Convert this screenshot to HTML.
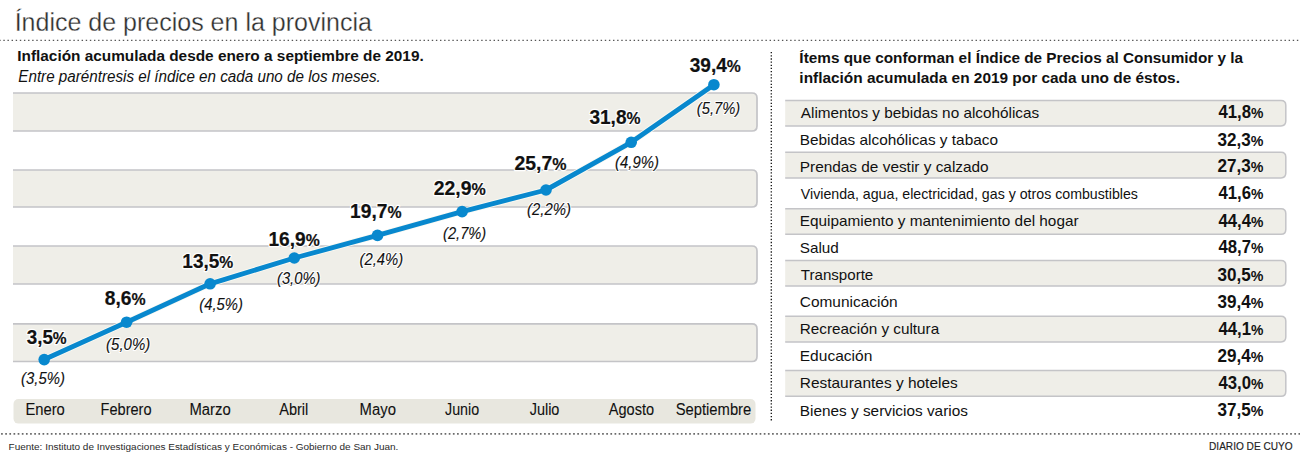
<!DOCTYPE html>
<html><head><meta charset="utf-8"><style>
html,body{margin:0;padding:0;background:#fff;width:1300px;height:459px;overflow:hidden}
svg{display:block}
text{font-family:"Liberation Sans", sans-serif}
</style></head><body>
<svg width="1300" height="459" viewBox="0 0 1300 459">
<line x1="-0.77" y1="40.4" x2="1301" y2="40.4" stroke="#555" stroke-width="1.4" stroke-dasharray="1.4 2.7195"/>
<path d="M13 93 H752 Q757 93 757 98 V126 Q757 131 752 131 H13 Z" fill="#efeee8"/>
<path d="M13 93 H752 Q757 93 757 98 V126 Q757 131 752 131 H13" fill="none" stroke="#c4c4c7" stroke-width="1.7"/>
<path d="M13 170 H752 Q757 170 757 175 V202 Q757 207 752 207 H13 Z" fill="#efeee8"/>
<path d="M13 170 H752 Q757 170 757 175 V202 Q757 207 752 207 H13" fill="none" stroke="#c4c4c7" stroke-width="1.7"/>
<path d="M13 246 H752 Q757 246 757 251 V279 Q757 284 752 284 H13 Z" fill="#efeee8"/>
<path d="M13 246 H752 Q757 246 757 251 V279 Q757 284 752 284 H13" fill="none" stroke="#c4c4c7" stroke-width="1.7"/>
<path d="M13 323.9 H752 Q757 323.9 757 328.9 V356.5 Q757 361.5 752 361.5 H13 Z" fill="#efeee8"/>
<path d="M13 323.9 H752 Q757 323.9 757 328.9 V356.5 Q757 361.5 752 361.5 H13" fill="none" stroke="#c4c4c7" stroke-width="1.7"/>
<rect x="13.5" y="399" width="742" height="24.6" rx="5" fill="#e8e7df"/>
<path d="M44.2 359.6 L126.6 322.2 L210.1 283.8 L294.3 258 L377.5 235.4 L462.1 211.6 L546 190 L631.2 142.3 L713.9 84.7" fill="none" stroke="#fbfaf2" stroke-width="6.6" stroke-linejoin="round"/>
<path d="M44.2 359.6 L126.6 322.2 L210.1 283.8 L294.3 258 L377.5 235.4 L462.1 211.6 L546 190 L631.2 142.3 L713.9 84.7" fill="none" stroke="#0888ce" stroke-width="4.9" stroke-linejoin="round"/>
<circle cx="44.2" cy="359.6" r="5.8" fill="#0888ce"/>
<circle cx="126.6" cy="322.2" r="5.8" fill="#0888ce"/>
<circle cx="210.1" cy="283.8" r="5.8" fill="#0888ce"/>
<circle cx="294.3" cy="258" r="5.8" fill="#0888ce"/>
<circle cx="377.5" cy="235.4" r="5.8" fill="#0888ce"/>
<circle cx="462.1" cy="211.6" r="5.8" fill="#0888ce"/>
<circle cx="546" cy="190" r="5.8" fill="#0888ce"/>
<circle cx="631.2" cy="142.3" r="5.8" fill="#0888ce"/>
<circle cx="713.9" cy="84.7" r="5.8" fill="#0888ce"/>
<line x1="771.3" y1="52" x2="771.3" y2="420.5" stroke="#111" stroke-width="1.3" stroke-dasharray="1.3 1.8645"/>
<path d="M785.2 100.5 H1281 Q1285.8 100.5 1285.8 105.3 V121.10000000000001 Q1285.8 125.9 1281 125.9 H785.2 Z" fill="#efeee8"/>
<path d="M785.2 100.5 H1281 Q1285.8 100.5 1285.8 105.3 V121.10000000000001 Q1285.8 125.9 1281 125.9 H785.2" fill="none" stroke="#c4c4c7" stroke-width="1.5"/>
<path d="M785.2 152.2 H1281 Q1285.8 152.2 1285.8 157.0 V173.1 Q1285.8 177.9 1281 177.9 H785.2 Z" fill="#efeee8"/>
<path d="M785.2 152.2 H1281 Q1285.8 152.2 1285.8 157.0 V173.1 Q1285.8 177.9 1281 177.9 H785.2" fill="none" stroke="#c4c4c7" stroke-width="1.5"/>
<path d="M785.2 208.7 H1281 Q1285.8 208.7 1285.8 213.5 V229.39999999999998 Q1285.8 234.2 1281 234.2 H785.2 Z" fill="#efeee8"/>
<path d="M785.2 208.7 H1281 Q1285.8 208.7 1285.8 213.5 V229.39999999999998 Q1285.8 234.2 1281 234.2 H785.2" fill="none" stroke="#c4c4c7" stroke-width="1.5"/>
<path d="M785.2 260.5 H1281 Q1285.8 260.5 1285.8 265.3 V281.09999999999997 Q1285.8 285.9 1281 285.9 H785.2 Z" fill="#efeee8"/>
<path d="M785.2 260.5 H1281 Q1285.8 260.5 1285.8 265.3 V281.09999999999997 Q1285.8 285.9 1281 285.9 H785.2" fill="none" stroke="#c4c4c7" stroke-width="1.5"/>
<path d="M785.2 316.3 H1281 Q1285.8 316.3 1285.8 321.1 V337.09999999999997 Q1285.8 341.9 1281 341.9 H785.2 Z" fill="#efeee8"/>
<path d="M785.2 316.3 H1281 Q1285.8 316.3 1285.8 321.1 V337.09999999999997 Q1285.8 341.9 1281 341.9 H785.2" fill="none" stroke="#c4c4c7" stroke-width="1.5"/>
<path d="M785.2 370.6 H1281 Q1285.8 370.6 1285.8 375.40000000000003 V391.4 Q1285.8 396.2 1281 396.2 H785.2 Z" fill="#efeee8"/>
<path d="M785.2 370.6 H1281 Q1285.8 370.6 1285.8 375.40000000000003 V391.4 Q1285.8 396.2 1281 396.2 H785.2" fill="none" stroke="#c4c4c7" stroke-width="1.5"/>
<line x1="-3.065" y1="433.9" x2="1301" y2="433.9" stroke="#6a6a6a" stroke-width="1.7" stroke-dasharray="1.7 2.445"/>
<text x="14.66" y="30.8" font-size="25.8" font-weight="normal" font-style="normal" fill="#2e2e2e" stroke="#fff" stroke-width="0.3" textLength="357.2" lengthAdjust="spacingAndGlyphs">Índice de precios en la provincia</text>
<text x="17.28" y="60.8" font-size="15" font-weight="bold" font-style="normal" fill="#111" textLength="406.47" lengthAdjust="spacingAndGlyphs">Inflación acumulada desde enero a septiembre de 2019.</text>
<text x="18.3" y="81.9" font-size="16" font-weight="normal" font-style="italic" fill="#111" textLength="362.53" lengthAdjust="spacingAndGlyphs">Entre paréntresis el índice en cada uno de los meses.</text>
<text x="26.7" y="343.5" font-size="20" font-weight="bold" font-style="normal" fill="#fff" stroke="#fff" stroke-width="2.5" stroke-linejoin="round" textLength="39.96" lengthAdjust="spacingAndGlyphs">3,5<tspan font-size="16.5">%</tspan></text>
<text x="26.7" y="343.5" font-size="20" font-weight="bold" font-style="normal" fill="#111" stroke="#111" stroke-width="0.2" textLength="39.96" lengthAdjust="spacingAndGlyphs">3,5<tspan font-size="16.5">%</tspan></text>
<text x="104.84" y="304.7" font-size="20" font-weight="bold" font-style="normal" fill="#fff" stroke="#fff" stroke-width="2.5" stroke-linejoin="round" textLength="40.83" lengthAdjust="spacingAndGlyphs">8,6<tspan font-size="16.5">%</tspan></text>
<text x="104.84" y="304.7" font-size="20" font-weight="bold" font-style="normal" fill="#111" stroke="#111" stroke-width="0.2" textLength="40.83" lengthAdjust="spacingAndGlyphs">8,6<tspan font-size="16.5">%</tspan></text>
<text x="182.35" y="268.2" font-size="20" font-weight="bold" font-style="normal" fill="#fff" stroke="#fff" stroke-width="2.5" stroke-linejoin="round" textLength="50.93" lengthAdjust="spacingAndGlyphs">13,5<tspan font-size="16.5">%</tspan></text>
<text x="182.35" y="268.2" font-size="20" font-weight="bold" font-style="normal" fill="#111" stroke="#111" stroke-width="0.2" textLength="50.93" lengthAdjust="spacingAndGlyphs">13,5<tspan font-size="16.5">%</tspan></text>
<text x="268.44" y="245.6" font-size="20" font-weight="bold" font-style="normal" fill="#fff" stroke="#fff" stroke-width="2.5" stroke-linejoin="round" textLength="51.24" lengthAdjust="spacingAndGlyphs">16,9<tspan font-size="16.5">%</tspan></text>
<text x="268.44" y="245.6" font-size="20" font-weight="bold" font-style="normal" fill="#111" stroke="#111" stroke-width="0.2" textLength="51.24" lengthAdjust="spacingAndGlyphs">16,9<tspan font-size="16.5">%</tspan></text>
<text x="350.04" y="218.4" font-size="20" font-weight="bold" font-style="normal" fill="#fff" stroke="#fff" stroke-width="2.5" stroke-linejoin="round" textLength="51.44" lengthAdjust="spacingAndGlyphs">19,7<tspan font-size="16.5">%</tspan></text>
<text x="350.04" y="218.4" font-size="20" font-weight="bold" font-style="normal" fill="#111" stroke="#111" stroke-width="0.2" textLength="51.44" lengthAdjust="spacingAndGlyphs">19,7<tspan font-size="16.5">%</tspan></text>
<text x="433.73" y="195" font-size="20" font-weight="bold" font-style="normal" fill="#fff" stroke="#fff" stroke-width="2.5" stroke-linejoin="round" textLength="52.06" lengthAdjust="spacingAndGlyphs">22,9<tspan font-size="16.5">%</tspan></text>
<text x="433.73" y="195" font-size="20" font-weight="bold" font-style="normal" fill="#111" stroke="#111" stroke-width="0.2" textLength="52.06" lengthAdjust="spacingAndGlyphs">22,9<tspan font-size="16.5">%</tspan></text>
<text x="514.43" y="169.7" font-size="20" font-weight="bold" font-style="normal" fill="#fff" stroke="#fff" stroke-width="2.5" stroke-linejoin="round" textLength="52.06" lengthAdjust="spacingAndGlyphs">25,7<tspan font-size="16.5">%</tspan></text>
<text x="514.43" y="169.7" font-size="20" font-weight="bold" font-style="normal" fill="#111" stroke="#111" stroke-width="0.2" textLength="52.06" lengthAdjust="spacingAndGlyphs">25,7<tspan font-size="16.5">%</tspan></text>
<text x="589.4" y="124.3" font-size="20" font-weight="bold" font-style="normal" fill="#fff" stroke="#fff" stroke-width="2.5" stroke-linejoin="round" textLength="51.08" lengthAdjust="spacingAndGlyphs">31,8<tspan font-size="16.5">%</tspan></text>
<text x="589.4" y="124.3" font-size="20" font-weight="bold" font-style="normal" fill="#111" stroke="#111" stroke-width="0.2" textLength="51.08" lengthAdjust="spacingAndGlyphs">31,8<tspan font-size="16.5">%</tspan></text>
<text x="689.7" y="71.9" font-size="20" font-weight="bold" font-style="normal" fill="#fff" stroke="#fff" stroke-width="2.5" stroke-linejoin="round" textLength="51.08" lengthAdjust="spacingAndGlyphs">39,4<tspan font-size="16.5">%</tspan></text>
<text x="689.7" y="71.9" font-size="20" font-weight="bold" font-style="normal" fill="#111" stroke="#111" stroke-width="0.2" textLength="51.08" lengthAdjust="spacingAndGlyphs">39,4<tspan font-size="16.5">%</tspan></text>
<text x="21.02" y="384" font-size="17" font-weight="normal" font-style="italic" fill="#fff" stroke="#fff" stroke-width="2.2" stroke-linejoin="round" textLength="43.92" lengthAdjust="spacingAndGlyphs">(3,5%)</text>
<text x="21.02" y="384" font-size="17" font-weight="normal" font-style="italic" fill="#111" stroke="#111" stroke-width="0.12" textLength="43.92" lengthAdjust="spacingAndGlyphs">(3,5%)</text>
<text x="106.12" y="349.6" font-size="17" font-weight="normal" font-style="italic" fill="#fff" stroke="#fff" stroke-width="2.2" stroke-linejoin="round" textLength="44.13" lengthAdjust="spacingAndGlyphs">(5,0%)</text>
<text x="106.12" y="349.6" font-size="17" font-weight="normal" font-style="italic" fill="#111" stroke="#111" stroke-width="0.12" textLength="44.13" lengthAdjust="spacingAndGlyphs">(5,0%)</text>
<text x="199.33" y="309.5" font-size="17" font-weight="normal" font-style="italic" fill="#fff" stroke="#fff" stroke-width="2.2" stroke-linejoin="round" textLength="43.61" lengthAdjust="spacingAndGlyphs">(4,5%)</text>
<text x="199.33" y="309.5" font-size="17" font-weight="normal" font-style="italic" fill="#111" stroke="#111" stroke-width="0.12" textLength="43.61" lengthAdjust="spacingAndGlyphs">(4,5%)</text>
<text x="277.03" y="283.8" font-size="17" font-weight="normal" font-style="italic" fill="#fff" stroke="#fff" stroke-width="2.2" stroke-linejoin="round" textLength="43.4" lengthAdjust="spacingAndGlyphs">(3,0%)</text>
<text x="277.03" y="283.8" font-size="17" font-weight="normal" font-style="italic" fill="#111" stroke="#111" stroke-width="0.12" textLength="43.4" lengthAdjust="spacingAndGlyphs">(3,0%)</text>
<text x="359.53" y="264.5" font-size="17" font-weight="normal" font-style="italic" fill="#fff" stroke="#fff" stroke-width="2.2" stroke-linejoin="round" textLength="43.71" lengthAdjust="spacingAndGlyphs">(2,4%)</text>
<text x="359.53" y="264.5" font-size="17" font-weight="normal" font-style="italic" fill="#111" stroke="#111" stroke-width="0.12" textLength="43.71" lengthAdjust="spacingAndGlyphs">(2,4%)</text>
<text x="443.04" y="239.4" font-size="17" font-weight="normal" font-style="italic" fill="#fff" stroke="#fff" stroke-width="2.2" stroke-linejoin="round" textLength="43.19" lengthAdjust="spacingAndGlyphs">(2,7%)</text>
<text x="443.04" y="239.4" font-size="17" font-weight="normal" font-style="italic" fill="#111" stroke="#111" stroke-width="0.12" textLength="43.19" lengthAdjust="spacingAndGlyphs">(2,7%)</text>
<text x="527.02" y="214.5" font-size="17" font-weight="normal" font-style="italic" fill="#fff" stroke="#fff" stroke-width="2.2" stroke-linejoin="round" textLength="43.92" lengthAdjust="spacingAndGlyphs">(2,2%)</text>
<text x="527.02" y="214.5" font-size="17" font-weight="normal" font-style="italic" fill="#111" stroke="#111" stroke-width="0.12" textLength="43.92" lengthAdjust="spacingAndGlyphs">(2,2%)</text>
<text x="615.12" y="167.6" font-size="17" font-weight="normal" font-style="italic" fill="#fff" stroke="#fff" stroke-width="2.2" stroke-linejoin="round" textLength="43.82" lengthAdjust="spacingAndGlyphs">(4,9%)</text>
<text x="615.12" y="167.6" font-size="17" font-weight="normal" font-style="italic" fill="#111" stroke="#111" stroke-width="0.12" textLength="43.82" lengthAdjust="spacingAndGlyphs">(4,9%)</text>
<text x="696.83" y="113.5" font-size="17" font-weight="normal" font-style="italic" fill="#fff" stroke="#fff" stroke-width="2.2" stroke-linejoin="round" textLength="43.4" lengthAdjust="spacingAndGlyphs">(5,7%)</text>
<text x="696.83" y="113.5" font-size="17" font-weight="normal" font-style="italic" fill="#111" stroke="#111" stroke-width="0.12" textLength="43.4" lengthAdjust="spacingAndGlyphs">(5,7%)</text>
<text x="25.38" y="415.3" font-size="16" font-weight="normal" font-style="normal" fill="#111" stroke="#111" stroke-width="0.1" textLength="39.47" lengthAdjust="spacingAndGlyphs">Enero</text>
<text x="100.59" y="415.3" font-size="16" font-weight="normal" font-style="normal" fill="#111" stroke="#111" stroke-width="0.1" textLength="50.94" lengthAdjust="spacingAndGlyphs">Febrero</text>
<text x="189.47" y="415.3" font-size="16" font-weight="normal" font-style="normal" fill="#111" stroke="#111" stroke-width="0.1" textLength="41.25" lengthAdjust="spacingAndGlyphs">Marzo</text>
<text x="279.2" y="415.3" font-size="16" font-weight="normal" font-style="normal" fill="#111" stroke="#111" stroke-width="0.1" textLength="29.12" lengthAdjust="spacingAndGlyphs">Abril</text>
<text x="359.57" y="415.3" font-size="16" font-weight="normal" font-style="normal" fill="#111" stroke="#111" stroke-width="0.1" textLength="36.35" lengthAdjust="spacingAndGlyphs">Mayo</text>
<text x="445.0" y="415.3" font-size="16" font-weight="normal" font-style="normal" fill="#111" stroke="#111" stroke-width="0.1" textLength="34.12" lengthAdjust="spacingAndGlyphs">Junio</text>
<text x="529.7" y="415.3" font-size="16" font-weight="normal" font-style="normal" fill="#111" stroke="#111" stroke-width="0.1" textLength="29.72" lengthAdjust="spacingAndGlyphs">Julio</text>
<text x="608.8" y="415.3" font-size="16" font-weight="normal" font-style="normal" fill="#111" stroke="#111" stroke-width="0.1" textLength="45.24" lengthAdjust="spacingAndGlyphs">Agosto</text>
<text x="675.68" y="415.3" font-size="16" font-weight="normal" font-style="normal" fill="#111" stroke="#111" stroke-width="0.1" textLength="75.59" lengthAdjust="spacingAndGlyphs">Septiembre</text>
<text x="799.38" y="63" font-size="15" font-weight="bold" font-style="normal" fill="#111" textLength="443.7" lengthAdjust="spacingAndGlyphs">Ítems que conforman el Índice de Precios al Consumidor y la</text>
<text x="799.37" y="82.7" font-size="15" font-weight="bold" font-style="normal" fill="#111" textLength="380.6" lengthAdjust="spacingAndGlyphs">inflación acumulada en 2019 por cada uno de éstos.</text>
<text x="800.8" y="117.7" font-size="15" font-weight="normal" font-style="normal" fill="#111" textLength="238.38" lengthAdjust="spacingAndGlyphs">Alimentos y bebidas no alcohólicas</text>
<text x="1218.4" y="118.2" font-size="18" font-weight="bold" font-style="normal" fill="#111" textLength="44.96" lengthAdjust="spacingAndGlyphs">41,8<tspan font-size="15">%</tspan></text>
<text x="799.78" y="145" font-size="15" font-weight="normal" font-style="normal" fill="#111" textLength="198.2" lengthAdjust="spacingAndGlyphs">Bebidas alcohólicas y tabaco</text>
<text x="1217.45" y="145.5" font-size="18" font-weight="bold" font-style="normal" fill="#111" textLength="45.92" lengthAdjust="spacingAndGlyphs">32,3<tspan font-size="15">%</tspan></text>
<text x="799.77" y="171.6" font-size="15" font-weight="normal" font-style="normal" fill="#111" textLength="188.9" lengthAdjust="spacingAndGlyphs">Prendas de vestir y calzado</text>
<text x="1217.45" y="172.1" font-size="18" font-weight="bold" font-style="normal" fill="#111" textLength="45.92" lengthAdjust="spacingAndGlyphs">27,3<tspan font-size="15">%</tspan></text>
<text x="800.8" y="198.9" font-size="15" font-weight="normal" font-style="normal" fill="#111" textLength="337.16" lengthAdjust="spacingAndGlyphs">Vivienda, agua, electricidad, gas y otros combustibles</text>
<text x="1218.4" y="199.4" font-size="18" font-weight="bold" font-style="normal" fill="#111" textLength="44.96" lengthAdjust="spacingAndGlyphs">41,6<tspan font-size="15">%</tspan></text>
<text x="799.78" y="226.2" font-size="15" font-weight="normal" font-style="normal" fill="#111" textLength="278.79" lengthAdjust="spacingAndGlyphs">Equipamiento y mantenimiento del hogar</text>
<text x="1218.4" y="226.7" font-size="18" font-weight="bold" font-style="normal" fill="#111" textLength="44.96" lengthAdjust="spacingAndGlyphs">44,4<tspan font-size="15">%</tspan></text>
<text x="799.78" y="252.6" font-size="15" font-weight="normal" font-style="normal" fill="#111" textLength="39.1" lengthAdjust="spacingAndGlyphs">Salud</text>
<text x="1218.4" y="253.1" font-size="18" font-weight="bold" font-style="normal" fill="#111" textLength="44.96" lengthAdjust="spacingAndGlyphs">48,7<tspan font-size="15">%</tspan></text>
<text x="800.8" y="280.3" font-size="15" font-weight="normal" font-style="normal" fill="#111" textLength="72.48" lengthAdjust="spacingAndGlyphs">Transporte</text>
<text x="1217.45" y="280.8" font-size="18" font-weight="bold" font-style="normal" fill="#111" textLength="45.92" lengthAdjust="spacingAndGlyphs">30,5<tspan font-size="15">%</tspan></text>
<text x="799.77" y="307" font-size="15" font-weight="normal" font-style="normal" fill="#111" textLength="97.81" lengthAdjust="spacingAndGlyphs">Comunicación</text>
<text x="1217.45" y="307.5" font-size="18" font-weight="bold" font-style="normal" fill="#111" textLength="45.92" lengthAdjust="spacingAndGlyphs">39,4<tspan font-size="15">%</tspan></text>
<text x="799.78" y="334.4" font-size="15" font-weight="normal" font-style="normal" fill="#111" textLength="139.45" lengthAdjust="spacingAndGlyphs">Recreación y cultura</text>
<text x="1218.4" y="334.9" font-size="18" font-weight="bold" font-style="normal" fill="#111" textLength="44.96" lengthAdjust="spacingAndGlyphs">44,1<tspan font-size="15">%</tspan></text>
<text x="799.76" y="361.3" font-size="15" font-weight="normal" font-style="normal" fill="#111" textLength="72.54" lengthAdjust="spacingAndGlyphs">Educación</text>
<text x="1217.45" y="361.8" font-size="18" font-weight="bold" font-style="normal" fill="#111" textLength="45.92" lengthAdjust="spacingAndGlyphs">29,4<tspan font-size="15">%</tspan></text>
<text x="799.77" y="388.2" font-size="15" font-weight="normal" font-style="normal" fill="#111" textLength="157.96" lengthAdjust="spacingAndGlyphs">Restaurantes y hoteles</text>
<text x="1218.4" y="388.7" font-size="18" font-weight="bold" font-style="normal" fill="#111" textLength="44.96" lengthAdjust="spacingAndGlyphs">43,0<tspan font-size="15">%</tspan></text>
<text x="799.78" y="415.5" font-size="15" font-weight="normal" font-style="normal" fill="#111" textLength="168.16" lengthAdjust="spacingAndGlyphs">Bienes y servicios varios</text>
<text x="1217.45" y="416.0" font-size="18" font-weight="bold" font-style="normal" fill="#111" textLength="45.92" lengthAdjust="spacingAndGlyphs">37,5<tspan font-size="15">%</tspan></text>
<text x="8.56" y="450.2" font-size="9.6" font-weight="normal" font-style="normal" fill="#2a2a2a" textLength="389.78" lengthAdjust="spacingAndGlyphs">Fuente: Instituto de Investigaciones Estadísticas y Económicas - Gobierno de San Juan.</text>
<text x="1209.05" y="449.9" font-size="10.6" font-weight="normal" font-style="normal" fill="#222" stroke="#222" stroke-width="0.15" textLength="83.54" lengthAdjust="spacingAndGlyphs">DIARIO DE CUYO</text>
</svg></body></html>
